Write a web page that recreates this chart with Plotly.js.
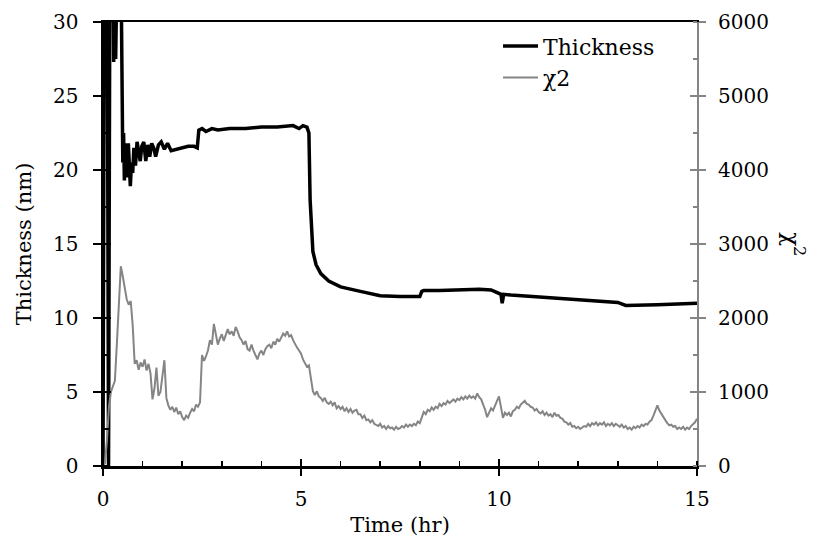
<!DOCTYPE html>
<html>
<head>
<meta charset="utf-8">
<script src="https://cdn.plot.ly/plotly-3.0.1.min.js"></script>
<style>html,body{margin:0;padding:0;background:#fff;}#chart{width:815px;height:546px;}</style>
</head>
<body>
<div id="chart"></div>
<script>
// Thickness (nm) vs time (hr)
var thickTime = [0, 0.04, 0.1, 0.14, 0.18, 0.24, 0.27, 0.3, 0.32, 0.35, 0.42, 0.45, 0.48, 0.5, 0.52, 0.54, 0.56, 0.58, 0.6, 0.62, 0.64, 0.66, 0.69, 0.72, 0.75, 0.78, 0.82, 0.86, 0.9, 0.94, 0.98, 1.03, 1.08, 1.13, 1.18, 1.23, 1.28, 1.33, 1.4, 1.47, 1.55, 1.63, 1.72, 1.85, 2.0, 2.15, 2.3, 2.38, 2.42, 2.5, 2.6, 2.75, 2.9, 3.2, 3.6, 4.0, 4.4, 4.8, 4.95, 5.05, 5.15, 5.2, 5.23, 5.27, 5.3, 5.38, 5.5, 5.7, 6.0, 6.5, 7.0, 7.5, 8.0, 8.05, 8.1, 8.5, 9.0, 9.5, 9.8, 10.0, 10.05, 10.08, 10.12, 10.3, 10.8, 11.5, 12.0, 12.6, 13.0, 13.2, 13.6, 14.0, 14.5, 15.0];
var thickValue = [0, 40, 40, 0, 40, 40, 27.3, 31, 27.5, 33, 31, 35, 22, 20.5, 22.5, 19.3, 21.8, 20.0, 21.2, 19.5, 21.8, 20.2, 18.9, 20.5, 19.8, 21.5, 20.3, 21.9, 21.0, 20.6, 21.6, 21.9, 20.6, 21.7, 20.9, 21.8, 21.5, 20.9, 21.7, 21.9, 21.4, 21.8, 21.3, 21.4, 21.5, 21.6, 21.6, 21.5, 22.7, 22.8, 22.6, 22.8, 22.7, 22.8, 22.8, 22.9, 22.9, 23.0, 22.8, 23.0, 22.9, 22.5, 18, 15.2, 14.5, 13.6, 13.0, 12.5, 12.1, 11.8, 11.5, 11.45, 11.45, 11.8, 11.85, 11.85, 11.9, 11.95, 11.9, 11.7, 11.6, 11.0, 11.6, 11.55, 11.45, 11.35, 11.25, 11.1, 11.05, 10.85, 10.85, 10.9, 10.95, 11.0];

// chi-squared vs time (hr), sampled every 0.05 hr
var chiTime = [0, 0.05, 0.1, 0.15, 0.2, 0.25, 0.3, 0.35, 0.4, 0.45, 0.5, 0.55, 0.6, 0.65, 0.7, 0.75, 0.8, 0.85, 0.9, 0.95,
  1.0, 1.05, 1.1, 1.15, 1.2, 1.25, 1.3, 1.35, 1.4, 1.45, 1.5, 1.55, 1.6, 1.65, 1.7, 1.75, 1.8, 1.85, 1.9, 1.95,
  2.0, 2.05, 2.1, 2.15, 2.2, 2.25, 2.3, 2.35, 2.4, 2.45, 2.5, 2.55, 2.6, 2.65, 2.7, 2.75, 2.8, 2.85, 2.9, 2.95,
  3.0, 3.05, 3.1, 3.15, 3.2, 3.25, 3.3, 3.35, 3.4, 3.45, 3.5, 3.55, 3.6, 3.65, 3.7, 3.75, 3.8, 3.85, 3.9, 3.95,
  4.0, 4.05, 4.1, 4.15, 4.2, 4.25, 4.3, 4.35, 4.4, 4.45, 4.5, 4.55, 4.6, 4.65, 4.7, 4.75, 4.8, 4.85, 4.9, 4.95,
  5.0, 5.05, 5.1, 5.15, 5.2, 5.25, 5.3, 5.35, 5.4, 5.45, 5.5, 5.55, 5.6, 5.65, 5.7, 5.75, 5.8, 5.85, 5.9, 5.95,
  6.0, 6.05, 6.1, 6.15, 6.2, 6.25, 6.3, 6.35, 6.4, 6.45, 6.5, 6.55, 6.6, 6.65, 6.7, 6.75, 6.8, 6.85, 6.9, 6.95,
  7.0, 7.05, 7.1, 7.15, 7.2, 7.25, 7.3, 7.35, 7.4, 7.45, 7.5, 7.55, 7.6, 7.65, 7.7, 7.75, 7.8, 7.85, 7.9, 7.95,
  8.0, 8.05, 8.1, 8.15, 8.2, 8.25, 8.3, 8.35, 8.4, 8.45, 8.5, 8.55, 8.6, 8.65, 8.7, 8.75, 8.8, 8.85, 8.9, 8.95,
  9.0, 9.05, 9.1, 9.15, 9.2, 9.25, 9.3, 9.35, 9.4, 9.45, 9.5, 9.55, 9.6, 9.65, 9.7, 9.75, 9.8, 9.85, 9.9, 9.95,
  10.0, 10.05, 10.1, 10.15, 10.2, 10.25, 10.3, 10.35, 10.4, 10.45, 10.5, 10.55, 10.6, 10.65, 10.7, 10.75, 10.8, 10.85, 10.9, 10.95,
  11.0, 11.05, 11.1, 11.15, 11.2, 11.25, 11.3, 11.35, 11.4, 11.45, 11.5, 11.55, 11.6, 11.65, 11.7, 11.75, 11.8, 11.85, 11.9, 11.95,
  12.0, 12.05, 12.1, 12.15, 12.2, 12.25, 12.3, 12.35, 12.4, 12.45, 12.5, 12.55, 12.6, 12.65, 12.7, 12.75, 12.8, 12.85, 12.9, 12.95,
  13.0, 13.05, 13.1, 13.15, 13.2, 13.25, 13.3, 13.35, 13.4, 13.45, 13.5, 13.55, 13.6, 13.65, 13.7, 13.75, 13.8, 13.85, 13.9, 13.95,
  14.0, 14.05, 14.1, 14.15, 14.2, 14.25, 14.3, 14.35, 14.4, 14.45, 14.5, 14.55, 14.6, 14.65, 14.7, 14.75, 14.8, 14.85, 14.9, 14.95, 15.0];
var chiValue = [0, 40, 350, 800, 1000, 1080, 1150, 1650, 2150, 2700, 2560, 2420, 2250, 2180, 2230, 1900, 1380, 1430, 1300, 1400,
  1340, 1440, 1290, 1380, 1250, 900, 1050, 1330, 950, 1000, 1200, 1430, 920, 820, 760, 800, 730, 790, 700, 740,
  660, 620, 680, 650, 720, 770, 740, 830, 800, 860, 1500, 1420, 1480, 1560, 1700, 1640, 1920, 1760, 1640, 1720,
  1780, 1690, 1760, 1850, 1780, 1820, 1760, 1880, 1820, 1740, 1700, 1640, 1690, 1580, 1560, 1640, 1560, 1500, 1440, 1520,
  1560, 1500, 1580, 1620, 1640, 1590, 1680, 1640, 1720, 1680, 1740, 1790, 1760, 1820, 1750, 1770, 1700, 1640, 1600, 1560,
  1520, 1440, 1380, 1340, 1360, 1200, 1010, 960, 1010, 940, 920, 880, 920, 860, 840, 870, 820, 860, 780, 810,
  770, 800, 740, 780, 730, 770, 720, 750, 760, 700, 700, 650, 680, 620, 630, 590, 620, 570, 560, 540,
  570, 520, 540, 500, 540, 510, 520, 490, 530, 500, 510, 540, 520, 560, 530, 560, 540, 570, 550, 600,
  580, 650, 730, 700, 760, 740, 790, 760, 800, 780, 840, 810, 850, 830, 880, 850, 880, 900, 870, 910,
  890, 930, 900, 940, 910, 950, 920, 940, 910, 980, 930, 900, 830, 760, 660, 720, 780, 750, 830, 880,
  940, 800, 650, 720, 690, 720, 670, 740, 760, 800, 780, 830, 860, 880, 840, 830, 800, 790, 750, 770,
  730, 710, 740, 690, 720, 680, 700, 660, 720, 680, 690, 650, 640, 600, 590, 560, 580, 530, 540, 510,
  530, 500, 520, 540, 530, 570, 540, 580, 560, 590, 550, 580, 560, 590, 540, 570, 550, 580, 540, 570,
  550, 530, 560, 520, 540, 500, 520, 490, 530, 510, 540, 520, 560, 540, 570, 560, 600, 620, 680, 760,
  820, 750, 700, 660, 620, 580, 550, 560, 530, 540, 500, 520, 500, 530, 490, 520, 500, 540, 560, 590, 640];

var FONT = 'DejaVu Serif, Liberation Serif, serif';
var GRAY = '#858585';

var traces = [
  {x: thickTime, y: thickValue, type: 'scatter', mode: 'lines', name: 'Thickness',
   line: {color: '#000', width: 3.5}, xaxis: 'x', yaxis: 'y'},
  {x: chiTime, y: chiValue, type: 'scatter', mode: 'lines', name: 'χ2',
   line: {color: GRAY, width: 2}, xaxis: 'x', yaxis: 'y2'},
  {x: [], y: [], type: 'scatter', mode: 'lines', showlegend: false, hoverinfo: 'skip', xaxis: 'x3', yaxis: 'y3'},
  {x: [], y: [], type: 'scatter', mode: 'lines', showlegend: false, hoverinfo: 'skip', xaxis: 'x', yaxis: 'y4'}
];

var layout = {
  width: 815, height: 546,
  margin: {l: 103, r: 118, t: 22, b: 80},
  paper_bgcolor: '#fff', plot_bgcolor: '#fff',
  font: {family: FONT, color: '#000', size: 20},
  showlegend: true,
  legend: {x: 0.665, y: 0.993, xanchor: 'left', yanchor: 'top', bgcolor: 'rgba(0,0,0,0)',
           font: {family: FONT, size: 22, color: '#000'}, itemwidth: 35, tracegroupgap: 0},
  xaxis: {range: [0, 15], dtick: 5, tick0: 0, showgrid: false, zeroline: false,
          showline: true, linecolor: '#000', linewidth: 2.5, mirror: true,
          ticks: 'outside', ticklen: 7, tickwidth: 2, tickcolor: '#000',
          ticklabelstandoff: 6,
          minor: {dtick: 1, ticks: 'inside', ticklen: 5, tickwidth: 1.5, tickcolor: '#000'},
          tickfont: {family: FONT, size: 20, color: '#000'},
          title: {text: 'Time (hr)', font: {family: FONT, size: 21, color: '#000'}, standoff: 8}},
  yaxis: {range: [0, 30], dtick: 5, tick0: 0, showgrid: false, zeroline: false,
          showline: true, linecolor: '#000', linewidth: 2.5,
          ticks: 'outside', ticklen: 8, tickwidth: 2, tickcolor: '#000',
          ticklabelstandoff: 10,
          minor: {dtick: 2.5, ticks: 'inside', ticklen: 6, tickwidth: 1.5, tickcolor: '#000'},
          tickfont: {family: FONT, size: 20, color: '#000'},
          title: {text: 'Thickness (nm)', font: {family: FONT, size: 21, color: '#000'}, standoff: 16}},
  yaxis2: {overlaying: 'y', side: 'right', anchor: 'x', range: [0, 6000], dtick: 1000, tick0: 0,
           showgrid: false, zeroline: false, showline: true, linecolor: GRAY, linewidth: 2,
           ticks: 'outside', ticklen: 7, tickwidth: 2, tickcolor: GRAY,
           ticklabelstandoff: 8,
           minor: {dtick: 500, ticks: 'inside', ticklen: 4, tickwidth: 1.5, tickcolor: GRAY},
           tickfont: {family: FONT, size: 20, color: '#000'}},
  xaxis3: {overlaying: 'x', anchor: 'y', side: 'bottom', range: [0, 15], dtick: 5, tick0: 0,
           showgrid: false, zeroline: false, showline: false, showticklabels: false,
           ticks: 'inside', ticklen: 7, tickwidth: 2, tickcolor: '#000'},
  yaxis3: {overlaying: 'y', anchor: 'x', side: 'left', range: [0, 30], dtick: 5, tick0: 0,
           showgrid: false, zeroline: false, showline: false, showticklabels: false,
           ticks: 'inside', ticklen: 8, tickwidth: 2, tickcolor: '#000'},
  yaxis4: {overlaying: 'y', anchor: 'x', side: 'right', range: [0, 6000], dtick: 1000, tick0: 0,
           showgrid: false, zeroline: false, showline: false, showticklabels: false,
           ticks: 'inside', ticklen: 7, tickwidth: 2, tickcolor: GRAY},
  annotations: [
    {text: 'χ<sup>2</sup>', xref: 'paper', yref: 'paper', x: 1.163, y: 0.5,
     xanchor: 'center', yanchor: 'middle', showarrow: false, textangle: 90,
     font: {family: FONT, size: 23, color: '#000'}}
  ]
};

Plotly.newPlot('chart', traces, layout, {displayModeBar: false, staticPlot: true});
</script>
</body>
</html>
